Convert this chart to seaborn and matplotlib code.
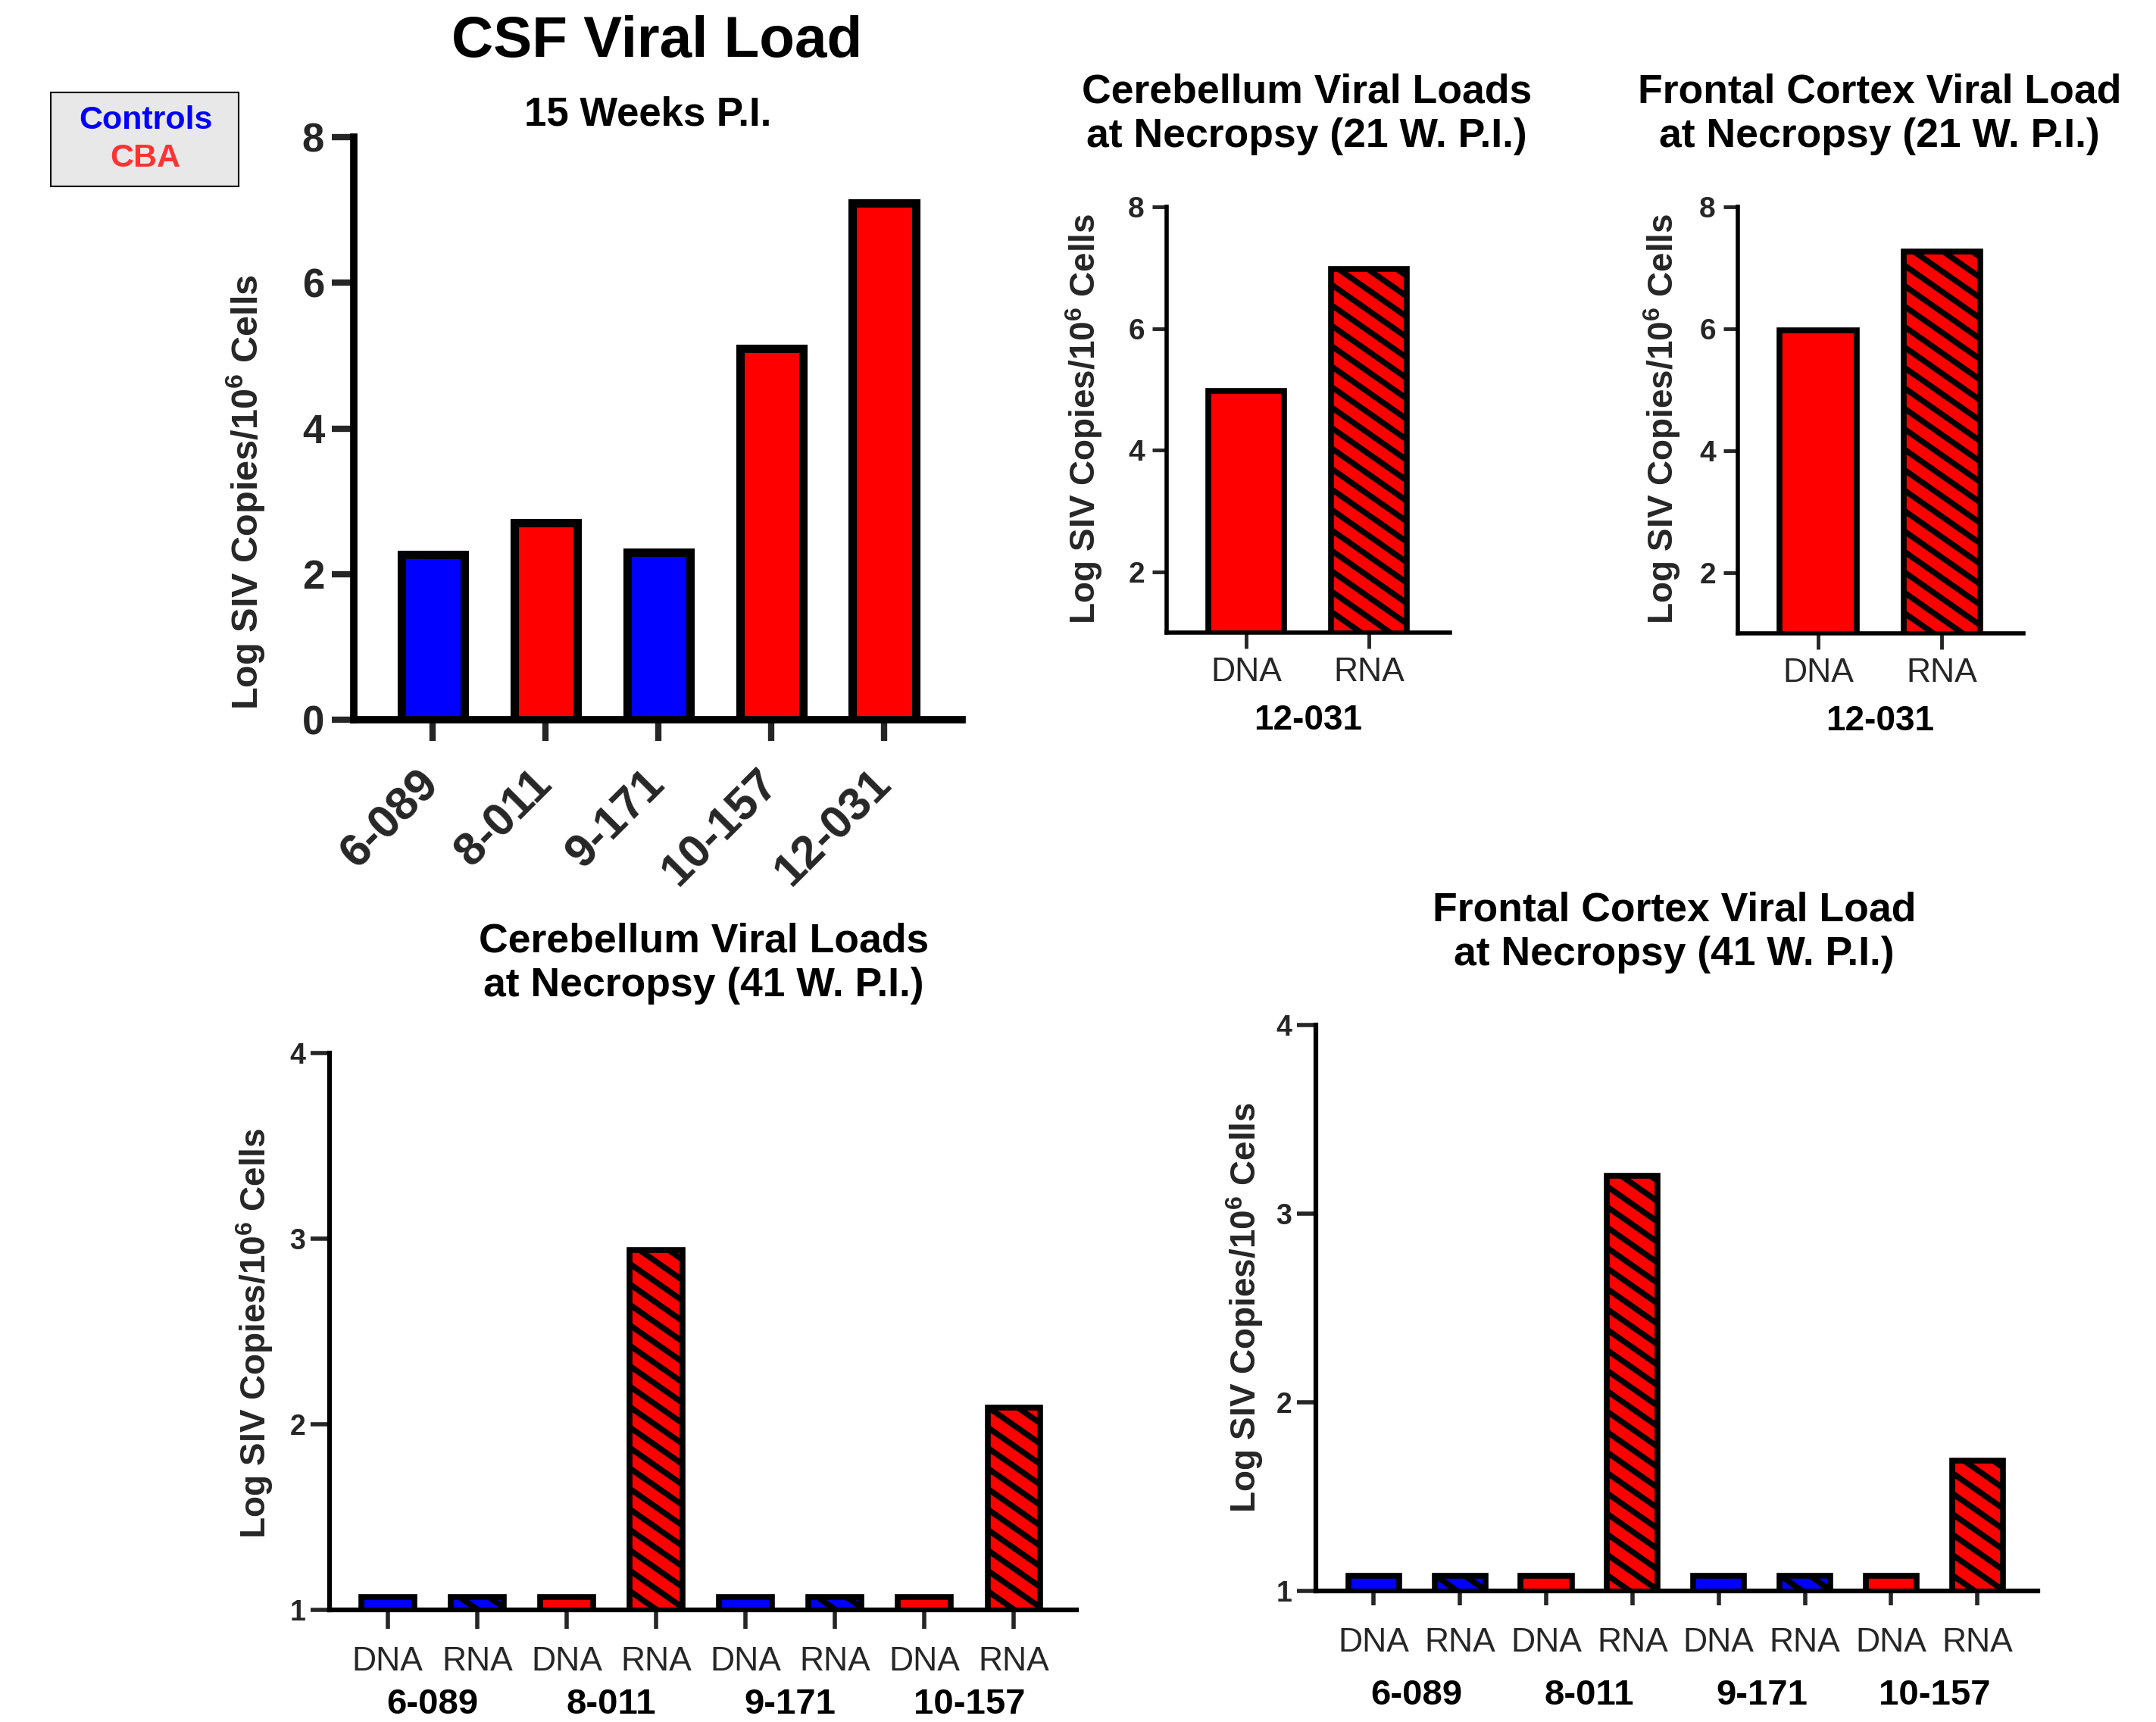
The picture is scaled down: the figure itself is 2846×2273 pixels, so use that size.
import pandas as pd
import seaborn as sns
import matplotlib.pyplot as plt
from matplotlib.patches import Rectangle
from matplotlib.collections import LineCollection
from matplotlib.transforms import IdentityTransform

W, H = 2846, 2273

# CSF, 15 weeks p.i.
csf_animals = ["6-089", "8-011", "9-171", "10-157", "12-031"]
csf_groups = ["Control", "CBA", "Control", "CBA", "CBA"]
csf_load = [2.27, 2.70, 2.30, 5.10, 7.10]

# necropsy at 21 weeks p.i. (only 12-031)
nec21_animal = "12-031"
nec21_assays = ["DNA", "RNA"]
cereb21_load = [4.97, 6.98]
frontal21_load = [5.97, 7.27]

# necropsy at 41 weeks p.i.
nec41_animals = ["6-089", "8-011", "9-171", "10-157"]
nec41_groups = ["Control", "CBA", "Control", "CBA"]
cereb41_dna = [1.07, 1.07, 1.07, 1.07]
cereb41_rna = [1.07, 2.94, 1.07, 2.09]
frontal41_dna = [1.08, 1.08, 1.08, 1.08]
frontal41_rna = [1.08, 3.20, 1.08, 1.69]

legend_labels = ["Controls", "CBA"]
group_colors = {"Control": "#0000ff", "CBA": "#ff0000"}
YLAB = "Log SIV Copies/10$^\\mathbf{6}$ Cells"

sns.set_style("ticks")
plt.rcParams["font.family"] = ["Liberation Sans", "DejaVu Sans"]
plt.rcParams["mathtext.fontset"] = "custom"
plt.rcParams["mathtext.rm"] = "Liberation Sans"
plt.rcParams["mathtext.bf"] = "Liberation Sans:bold"
plt.rcParams["text.color"] = "black"


def add_axes_px(fig, l, t, r, b):
    return fig.add_axes([l / W, 1 - b / H, (r - l) / W, (b - t) / H])


def to_axes(ax, x, y):
    return ax.transAxes.inverted().transform((x, H - y))


def fig_text(fig, x, y, s, **kw):
    fig.text(x / W, 1 - y / H, s, ha="center", va="center", **kw)


def nec_frame(animals, groups, dna, rna):
    rows = []
    for a, g, d, r in zip(animals, groups, dna, rna):
        rows.append({"key": a + " DNA", "animal": a, "assay": "DNA", "group": g, "load": d})
        rows.append({"key": a + " RNA", "animal": a, "assay": "RNA", "group": g, "load": r})
    return pd.DataFrame(rows)


def draw_bars(ax, df, key, width, lw):
    keys = list(df[key])
    pal = {k: group_colors[g] for k, g in zip(df[key], df["group"])}
    sns.barplot(data=df, x=key, y="load", hue=key, order=keys, hue_order=keys,
                palette=pal, legend=False, width=width, saturation=1,
                edgecolor="black", linewidth=lw, errorbar=None, ax=ax)
    ax.set_xlabel("")


def stripe_rna(ax, df, period=27, slope=0.7, lw=5.5):
    # diagonal black stripes on the RNA bars, clipped to each bar
    for patch, assay in zip(ax.patches, df["assay"]):
        if assay != "RNA":
            continue
        bb = patch.get_window_extent()
        span = slope * bb.width
        segs = []
        b = bb.y0
        while b < bb.y1 + span:
            segs.append([(bb.x0, b), (bb.x1, b - span)])
            b += period
        lc = LineCollection(segs, colors="black", linewidths=lw,
                            transform=IdentityTransform(), zorder=patch.get_zorder())
        ax.add_collection(lc, autolim=False)
        lc.set_clip_path(patch.get_path(), patch.get_transform())
        lc.set_clip_box(ax.bbox)


def style(ax, spine_w, ticks, tick_fs, ylab_fs, ylab_xy):
    sns.despine(ax=ax)
    for s in ("left", "bottom"):
        ax.spines[s].set_linewidth(spine_w)
        ax.spines[s].set_color("black")
    ax.set_yticks(ticks)
    ax.set_yticklabels([str(t) for t in ticks], fontsize=tick_fs, fontweight="bold")
    ax.set_ylabel(YLAB, fontsize=ylab_fs, fontweight="bold")
    ax.yaxis.label.set_va("center")
    ax.yaxis.set_label_coords(*to_axes(ax, *ylab_xy))


fig = plt.figure(figsize=(W / 100, H / 100), dpi=100)

# ---- CSF viral load
csf = pd.DataFrame({"animal": csf_animals, "group": csf_groups, "load": csf_load})
ax = add_axes_px(fig, 467, 181, 1270, 950)
draw_bars(ax, csf, "animal", 0.56, 8)
ax.set_xlim(-0.7, 4.69)
ax.set_ylim(0, 8)
style(ax, 7, [0, 2, 4, 6, 8], 38, 35, (325, 650))
ax.tick_params(axis="x", length=20, width=6, pad=35)
ax.tick_params(axis="y", length=21, width=6, pad=7)
ax.set_xticks(range(len(csf_animals)))
ax.set_xticklabels(csf_animals, fontsize=44, fontweight="bold")
plt.setp(ax.get_xticklabels(), rotation=45, ha="right", va="center", rotation_mode="anchor")
fig_text(fig, 867, 55, "CSF Viral Load", fontsize=55, fontweight="bold")
fig_text(fig, 855, 151, "15 Weeks P.I.", fontsize=38, fontweight="bold")

# legend box
fig.add_artist(Rectangle((67 / W, 1 - 246 / H), (315 - 67) / W, (246 - 122) / H,
                         transform=fig.transFigure, facecolor="#e8e8e8",
                         edgecolor="black", linewidth=1.5))
fig_text(fig, 192, 159, legend_labels[0], fontsize=31, fontweight="bold", color="#0000ff")
fig_text(fig, 192, 209, legend_labels[1], fontsize=31, fontweight="bold", color="#ff3333")

# ---- 21 W necropsy panels
panels21 = [
    ("Cerebellum Viral Loads\nat Necropsy (21 W. P.I.)", cereb21_load,
     (1540, 273, 1914, 835), (1431, 553), (1725, 151)),
    ("Frontal Cortex Viral Load\nat Necropsy (21 W. P.I.)", frontal21_load,
     (2294, 273, 2671, 836), (2194, 553), (2481, 151)),
]
for title, loads, box, ylab_xy, title_xy in panels21:
    df = pd.DataFrame({"key": [nec21_animal + " " + a for a in nec21_assays],
                       "assay": nec21_assays, "group": "CBA", "load": loads})
    ax = add_axes_px(fig, *box)
    draw_bars(ax, df, "key", 0.62, 5.5)
    ax.set_xlim(-0.65, 1.66)
    ax.set_ylim(1, 8)
    stripe_rna(ax, df)
    style(ax, 4, [2, 4, 6, 8], 28, 33, ylab_xy)
    ax.tick_params(axis="x", length=15, width=3.5, pad=23)
    ax.tick_params(axis="y", length=14, width=3.5, pad=7)
    ax.set_xticks(range(len(nec21_assays)))
    ax.set_xticklabels(nec21_assays, fontsize=32)
    plt.setp(ax.get_xticklabels(), va="center")
    gy = to_axes(ax, 0, box[3] + 116)[1]
    ax.text(0.5, gy, nec21_animal, transform=ax.get_xaxis_transform(),
            ha="center", va="center", fontsize=33, fontweight="bold")
    fig_text(fig, title_xy[0], title_xy[1], title, fontsize=38.5, fontweight="bold",
             linespacing=1.22)

# ---- 41 W necropsy panels
panels41 = [
    ("Cerebellum Viral Loads\nat Necropsy (41 W. P.I.)", cereb41_dna, cereb41_rna,
     (435, 1390, 1421, 2125), (-0.65, 7.7), (336, 1760), (929, 1272), 18, 31, 125),
    ("Frontal Cortex Viral Load\nat Necropsy (41 W. P.I.)", frontal41_dna, frontal41_rna,
     (1737, 1353, 2690, 2100), (-0.67, 7.7), (1643, 1726), (2210, 1231), 14, 35, 138),
]
for title, dna, rna, box, xlim, ylab_xy, title_xy, tlen, tpad, goff in panels41:
    df = nec_frame(nec41_animals, nec41_groups, dna, rna)
    ax = add_axes_px(fig, *box)
    draw_bars(ax, df, "key", 0.59, 5.5)
    ax.set_xlim(*xlim)
    ax.set_ylim(1, 4)
    stripe_rna(ax, df)
    style(ax, 4.5, [1, 2, 3, 4], 27, 33, ylab_xy)
    ax.tick_params(axis="x", length=tlen, width=4, pad=tpad)
    ax.tick_params(axis="y", length=18, width=4, pad=5)
    ax.set_xticks(range(len(df)))
    ax.set_xticklabels(df["assay"], fontsize=32)
    plt.setp(ax.get_xticklabels(), va="center")
    gy = to_axes(ax, 0, box[3] + goff)[1]
    for i, animal in enumerate(nec41_animals):
        ax.text(2 * i + 0.5, gy, animal, transform=ax.get_xaxis_transform(),
                ha="center", va="center", fontsize=34, fontweight="bold")
    fig_text(fig, title_xy[0], title_xy[1], title, fontsize=38.5, fontweight="bold",
             linespacing=1.22)

fig.savefig("out.png", dpi=100)
